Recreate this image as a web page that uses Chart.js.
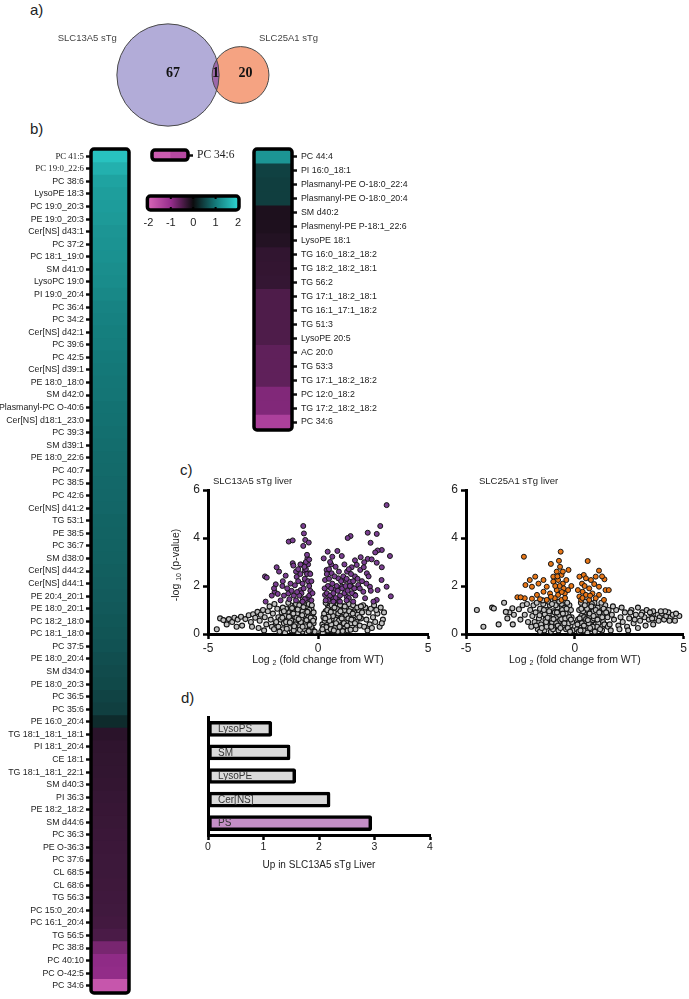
<!DOCTYPE html>
<html><head><meta charset="utf-8">
<script src="https://cdn.jsdelivr.net/npm/chart.js@4.4.1/dist/chart.umd.min.js"></script>
<style>
body{margin:0;background:#fff;}
#page{position:relative;width:689px;height:999px;overflow:hidden;font-family:"Liberation Sans",Arial,sans-serif;color:#222;background:#fff}
canvas{position:absolute;display:block}
.lab{position:absolute;font-size:15px;line-height:1;color:#222}
</style></head><body><div id="page">
<div class="lab" style="left:30px;top:2px">a)</div>
<div class="lab" style="left:30px;top:121px">b)</div>
<div class="lab" style="left:180px;top:462px">c)</div>
<div class="lab" style="left:181px;top:690px">d)</div>
<canvas id="venn" width="400" height="132" style="left:0;top:0"></canvas>
<canvas id="heatL" width="140" height="860" style="left:0;top:140px"></canvas>
<canvas id="inset" width="100" height="30" style="left:140px;top:140px"></canvas>
<canvas id="cbar" width="114" height="52" style="left:136px;top:183px"></canvas>
<canvas id="heatR" width="210" height="300" style="left:240px;top:140px"></canvas>
<canvas id="volA" width="280" height="210" style="left:160px;top:465px"></canvas>
<canvas id="volB" width="271" height="210" style="left:418px;top:465px"></canvas>
<canvas id="bars" width="290" height="185" style="left:160px;top:695px"></canvas>
</div>
<script>
// ---------------- DATA ----------------
const vennSets = ['SLC13A5 sTg', 'SLC25A1 sTg'];
const vennOnly = [67, 20];
const vennShared = [1];

const heatLeftLabels = ['PC 41:5','PC 19:0_22:6','PC 38:6','LysoPE 18:3','PC 19:0_20:3','PE 19:0_20:3','Cer[NS] d43:1','PC 37:2','PC 18:1_19:0','SM d41:0','LysoPC 19:0','PI 19:0_20:4','PC 36:4','PC 34:2','Cer[NS] d42:1','PC 39:6','PC 42:5','Cer[NS] d39:1','PE 18:0_18:0','SM d42:0','Plasmanyl-PC O-40:6','Cer[NS] d18:1_23:0','PC 39:3','SM d39:1','PE 18:0_22:6','PC 40:7','PC 38:5','PC 42:6','Cer[NS] d41:2','TG 53:1','PE 38:5','PC 36:7','SM d38:0','Cer[NS] d44:2','Cer[NS] d44:1','PE 20:4_20:1','PE 18:0_20:1','PC 18:2_18:0','PC 18:1_18:0','PC 37:5','PE 18:0_20:4','SM d34:0','PE 18:0_20:3','PC 36:5','PC 35:6','PE 16:0_20:4','TG 18:1_18:1_18:1','PI 18:1_20:4','CE 18:1','TG 18:1_18:1_22:1','SM d40:3','PI 36:3','PE 18:2_18:2','SM d44:6','PC 36:3','PE O-36:3','PC 37:6','CL 68:5','CL 68:6','TG 56:3','PC 15:0_20:4','PC 16:1_20:4','TG 56:5','PC 38:8','PC 40:10','PC O-42:5','PC 34:6'];
const heatLeftValues = [1.8,1.6,1.45,1.4,1.38,1.35,1.3,1.28,1.25,1.22,1.2,1.15,1.1,1.08,1.05,1.03,1.0,0.98,0.96,0.95,0.93,0.92,0.9,0.88,0.86,0.85,0.84,0.83,0.82,0.8,0.79,0.78,0.77,0.75,0.74,0.72,0.7,0.68,0.66,0.64,0.6,0.57,0.55,0.5,0.46,0.28,-0.22,-0.25,-0.26,-0.27,-0.28,-0.3,-0.31,-0.32,-0.33,-0.34,-0.35,-0.35,-0.36,-0.37,-0.38,-0.4,-0.45,-0.78,-0.95,-0.97,-1.75];

const heatRightLabels = ['PC 44:4','PI 16:0_18:1','Plasmanyl-PE O-18:0_22:4','Plasmanyl-PE O-18:0_20:4','SM d40:2','Plasmenyl-PE P-18:1_22:6','LysoPE 18:1','TG 16:0_18:2_18:2','TG 18:2_18:2_18:1','TG 56:2','TG 17:1_18:2_18:1','TG 16:1_17:1_18:2','TG 51:3','LysoPE 20:5','AC 20:0','TG 53:3','TG 17:1_18:2_18:2','PC 12:0_18:2','TG 17:2_18:2_18:2','PC 34:6'];
const heatRightValues = [1.3,0.48,0.45,0.45,-0.12,-0.13,-0.17,-0.27,-0.28,-0.29,-0.48,-0.48,-0.48,-0.48,-0.6,-0.6,-0.6,-0.85,-0.85,-1.35];

const insetLabel = ['PC 34:6'];
const insetValues = [-1.85, -1.5];
const colorbarTicks = [-2, -1, 0, 1, 2];

const volcA_sig = [[3.12,5.37],[2.83,4.5],[2.67,4.17],[2.26,4.22],[1.48,4.08],[1.35,4.0],[2.39,3.8],[2.9,3.5],[2.71,3.48],[2.6,3.4],[3.27,3.25],[2.26,3.13],[1.94,3.2],[1.68,3.07],[2.1,2.99],[2.44,3.11],[2.67,2.97],[2.9,2.78],[0.44,3.43],[0.88,3.46],[1.08,3.25],[0.65,3.22],[0.26,3.15],
[-0.67,4.5],[-0.64,4.19],[-0.58,3.92],[-0.42,3.81],[-0.67,3.67],[-1.33,3.85],[-1.15,3.9],[-0.48,3.15],[-0.51,2.97],[-0.76,2.89],[-1.15,2.95],[-1.12,2.85],[-1.88,2.78],[-1.77,2.6],[-2.41,2.4],[-2.33,2.35],[-1.47,2.43],[-0.97,2.38],[-0.6,2.64],[-0.38,2.53],[-1.92,2.07],[-1.62,2.0],[-1.05,2.03],[-1.97,1.76],[-1.83,1.67],[-1.35,1.69],[-0.79,1.83],[-2.38,1.35],
[1.32,2.6],[1.53,2.78],[1.76,2.88],[1.92,2.67],[2.22,2.53],[2.08,2.78],[1.68,2.4],[1.43,2.18],[1.23,2.25],[0.92,2.32],[0.62,2.53],[0.39,2.67],[0.32,2.25],[0.47,1.97],[0.77,1.83],[1.08,1.97],[1.53,1.97],[1.83,2.04],[2.36,1.97],[2.71,1.83],[2.89,2.25],[3.12,1.97],[3.31,1.57],[2.67,1.42],[2.52,1.35],[2.06,1.76],[1.68,1.63],[1.3,1.56],[2.14,1.49],[0.7,1.49],[0.32,1.63],[0.47,1.42],[0.92,1.42],
[-0.9,2.2],[-0.8,2.5],[-0.7,2.1],[-0.6,2.3],[-0.55,2.7],[-0.5,2.5],[-0.45,2.2],[-0.4,2.0],[-0.35,1.8],[-0.65,1.9],[-0.75,1.7],[-0.85,1.6],[-0.95,1.75],[-1.1,1.6],[-1.2,1.8],[-1.25,2.1],[-1.4,1.9],[-1.55,1.6],[-0.5,1.5],[-0.6,1.45],[-0.4,1.6],[-0.3,1.4],[-0.7,1.35],[-1.0,1.4],[-1.3,1.45],[-1.7,1.4],[-0.45,2.9],[-0.55,3.0],[-0.5,3.3],[-0.4,3.1],[-0.62,2.8],[-0.35,2.5],[-0.8,2.9],[-1.0,2.6],[-0.9,2.7],[-1.6,2.2],[-2.1,1.6],[-2.0,1.9],[-0.3,2.2],[-0.25,1.7],
[0.35,1.4],[0.4,1.7],[0.45,2.0],[0.5,2.3],[0.55,1.6],[0.6,1.9],[0.65,2.1],[0.7,1.7],[0.75,2.4],[0.8,1.5],[0.85,2.0],[0.9,1.8],[0.95,2.6],[1.0,1.6],[1.05,2.2],[1.1,1.9],[1.15,2.4],[1.2,1.7],[1.25,2.0],[1.3,2.3],[1.35,1.8],[1.4,1.5],[1.45,2.0],[1.5,2.5],[1.55,1.7],[1.6,2.2],[1.65,1.9],[1.7,1.6],[1.8,2.3],[1.9,1.9],[2.0,2.2],[2.2,2.1],[2.3,2.4],[2.4,1.8],[0.5,2.7],[0.6,2.9],[0.3,1.9],[0.4,2.5],[0.7,1.35],[1.0,1.35],[1.3,1.4],[1.6,1.35],[0.55,3.0],[0.8,2.8],[1.2,2.9],[1.4,2.7]];

const volcA_ns = [[-4.6,0.2],[-4.45,0.65],[-4.3,0.58],[-4.15,0.4],[-4.05,0.62],[-3.9,0.5],[-3.8,0.68],[-3.65,0.6],[-3.5,0.72],[-3.45,0.35],[-3.3,0.62],[-3.15,0.78],[-3.05,0.5],[-2.95,0.82],[-2.85,0.68],[-2.75,0.92],[-2.65,0.55],[-2.6,0.8],[-2.5,1.0],[-2.42,0.7],[-2.35,0.4],[-2.28,0.95],[-2.2,1.15],[-2.15,0.6],[-2.05,0.85],[-1.98,1.25],[-1.92,0.45],[-1.85,1.05],[-1.8,0.7],[-3.7,0.3],[-3.0,0.3],[-2.7,0.25],[-2.45,0.15],[-2.1,0.3],
[-1.8,0.3],[-1.7,0.6],[-1.65,0.9],[-1.6,0.2],[-1.55,0.45],[-1.5,0.75],[-1.45,1.05],[-1.4,0.35],[-1.35,0.6],[-1.3,0.9],[-1.25,1.2],[-1.2,0.15],[-1.15,0.45],[-1.1,0.7],[-1.05,1.0],[-1.0,1.25],[-0.95,0.25],[-0.9,0.55],[-0.85,0.8],[-0.8,1.1],[-0.75,1.3],[-0.7,0.1],[-0.65,0.4],[-0.6,0.65],[-0.55,0.9],[-0.5,1.15],[-0.45,0.3],[-0.4,0.55],[-0.35,0.8],[-0.3,1.05],[-0.25,0.2],[-0.2,0.45],[-0.15,0.1],[-1.75,0.1],[-1.5,0.05],[-1.3,0.25],[-1.1,0.15],[-0.9,0.05],[-0.8,0.35],[-0.6,0.2],[-0.5,0.05],[-0.35,0.15],[-1.45,0.5],[-1.25,0.75],[-1.05,0.55],[-0.85,1.2],[-0.7,0.95],[-0.6,1.25],[-0.45,0.7],[-0.4,1.0],[-0.3,0.6],[-1.35,1.3],[-1.15,0.95],[-0.95,0.85],[-0.75,0.6],[-0.55,0.45],[-0.25,0.85],[-1.6,1.1],[-1.9,0.5],[-2.0,0.2],[-0.68,1.45],[-0.5,1.38],[-0.88,0.35],[-1.02,0.4],[-1.22,0.55],[-0.62,0.82],[-0.42,1.25],[-0.3,0.3],[-0.18,0.65],
[-1.55,0.95],[-1.42,0.22],[-1.32,0.72],[-1.18,1.08],[-1.08,0.32],[-0.98,0.68],[-0.92,1.02],[-0.82,0.18],[-0.78,0.5],[-0.72,0.78],[-0.66,1.12],[-0.58,0.32],[-0.52,0.58],[-0.48,0.92],[-0.38,0.38],[-0.33,0.68],[-0.28,1.2],[-0.22,0.55],[-0.2,0.9],[-1.62,0.68],[-1.28,0.48],[-1.12,0.85],[-0.88,0.62],[-0.7,0.3],[-0.42,0.12],
[0.15,0.1],[0.2,0.4],[0.25,0.7],[0.3,0.2],[0.35,0.95],[0.4,0.5],[0.45,1.2],[0.5,0.3],[0.55,0.75],[0.6,1.05],[0.65,0.15],[0.7,0.55],[0.75,0.9],[0.8,1.25],[0.85,0.35],[0.9,0.7],[0.95,1.0],[1.0,0.2],[1.05,0.5],[1.1,0.85],[1.15,1.15],[1.2,0.3],[1.25,0.65],[1.3,0.95],[1.35,0.15],[1.4,0.45],[1.45,0.8],[1.5,1.1],[1.55,0.3],[1.6,0.6],[1.65,0.9],[1.7,0.2],[1.75,0.5],[1.8,0.8],[1.85,1.0],[1.9,0.35],[1.95,0.65],[2.0,0.9],[0.3,0.55],[0.4,0.85],[0.5,1.1],[0.6,0.4],[0.7,1.3],[0.8,0.6],[0.9,0.1],[1.0,1.2],[1.1,0.4],[1.2,1.0],[1.3,0.5],[1.4,1.25],[1.5,0.45],[1.6,1.2],[0.22,0.05],[0.45,0.15],[0.62,0.62],[0.78,0.25],[0.95,0.55],[1.12,0.12],[1.28,0.78],[1.48,0.18],[0.35,1.3],[0.55,1.35],[0.88,1.4],[1.05,0.72],[1.38,0.65],[0.68,1.1],
[0.25,0.3],[0.28,0.85],[0.38,0.28],[0.42,1.0],[0.52,0.55],[0.58,0.2],[0.62,1.2],[0.68,0.75],[0.72,0.15],[0.82,0.45],[0.86,1.05],[0.92,0.85],[0.98,0.3],[1.02,0.95],[1.08,0.65],[1.18,0.45],[1.22,1.15],[1.32,0.35],[1.42,0.95],[1.52,0.6],[1.58,0.85],[1.68,0.45],[1.78,1.1],[1.88,0.7],[0.48,0.72],[0.58,0.92],[0.75,1.1],[0.2,0.2],[0.33,0.65],
[2.1,0.3],[2.15,1.1],[2.2,0.6],[2.3,0.9],[2.35,0.4],[2.4,1.05],[2.5,0.7],[2.55,1.2],[2.6,0.5],[2.7,0.85],[2.8,0.3],[2.85,1.1],[2.95,0.6],[3.0,0.9],[2.25,0.15],[2.45,0.25],[2.65,1.0],[2.9,0.45],[2.05,1.2],[1.95,1.15]];

const volcB_sig = [[-2.34,3.22],[-0.65,3.43],[-0.73,3.05],[-1.1,2.92],[0.59,3.04],[-0.29,2.67],[1.11,2.64],[0.96,2.39],[0.41,2.46],[1.36,2.28],[-0.68,2.8],[-0.83,2.6],[-0.61,2.46],[-0.99,2.39],[-1.44,2.25],[-1.82,2.39],[-2.07,2.25],[-2.27,2.04],[-1.97,1.97],[-1.67,2.1],[-1.29,1.97],[-0.99,2.18],[-0.77,2.25],[-0.55,2.1],[-0.39,2.25],[-0.51,1.9],[-0.83,1.83],[-1.14,1.69],[-1.44,1.76],[-1.74,1.63],[-0.77,1.63],[-0.46,1.69],[-0.92,1.49],[-1.29,1.42],[-0.61,1.42],[-2.3,1.49],[-2.64,1.53],[-2.49,1.53],[-1.97,1.47],[0.21,2.39],[0.33,2.1],[0.51,2.32],[0.74,2.25],[0.89,2.08],[1.11,1.97],[0.66,1.9],[0.36,1.76],[0.21,1.56],[0.51,1.63],[0.81,1.69],[1.11,1.63],[1.41,1.83],[1.56,1.83],[1.34,1.42],[0.96,1.49],[0.66,1.42],[0.29,1.42],[0.14,1.83],[-0.31,1.83],[-0.16,2.0],[-0.7,2.0],[-0.6,1.75],[-0.9,2.0],[-1.1,1.55],[-0.45,1.5],[-1.6,1.45],[-0.8,2.4],[-0.55,2.6],[0.45,2.0],[0.7,1.6],[0.35,1.5],[1.25,2.4]];

const volcB_ns = [[-4.5,1.0],[-4.2,0.3],[-3.8,1.1],[-3.72,1.06],[-3.5,0.4],[-3.25,1.3],[-3.1,0.65],[-3.0,0.9],[-2.85,0.4],[-2.57,1.03],[-2.87,1.07],[-2.8,0.8],[-3.17,0.92],[-2.5,0.6],[-2.4,1.2],[-2.3,0.8],[-2.2,1.25],[-2.15,0.5],[-2.05,1.0],[-2.0,0.3],[-1.95,0.75],[-1.9,1.2],
[-1.85,0.5],[-1.8,0.9],[-1.75,1.3],[-1.7,0.2],[-1.65,0.65],[-1.6,1.05],[-1.55,0.4],[-1.5,0.85],[-1.45,1.25],[-1.4,0.15],[-1.35,0.6],[-1.3,1.0],[-1.25,0.35],[-1.2,0.8],[-1.15,1.2],[-1.1,0.1],[-1.05,0.5],[-1.0,0.95],[-0.95,1.3],[-0.9,0.3],[-0.85,0.7],[-0.8,1.1],[-0.75,0.15],[-0.7,0.55],[-0.65,0.9],[-0.6,1.25],[-0.55,0.35],[-0.5,0.75],[-0.45,1.1],[-0.4,0.2],[-0.35,0.55],[-0.3,0.9],[-0.25,1.2],[-0.2,0.35],[-0.15,0.7],[-0.1,0.15],[-1.6,0.1],[-1.3,0.3],[-1.0,0.2],[-0.85,0.45],[-0.62,0.62],[-0.42,0.85],[-0.28,0.45],[-0.18,1.0],[-1.12,0.65],[-1.38,0.82],[-0.72,1.35],[-0.52,1.4],[-0.35,1.3],[-0.92,0.9],[-1.22,1.35],[-1.48,1.4],[-0.12,0.5],
[-1.62,0.78],[-1.52,0.25],[-1.42,1.0],[-1.32,0.5],[-1.18,0.95],[-1.08,0.3],[-0.98,0.62],[-0.88,1.2],[-0.78,0.35],[-0.72,0.8],[-0.66,0.25],[-0.58,1.0],[-0.48,0.45],[-0.44,0.65],[-0.38,1.05],[-0.32,0.25],[-0.26,0.7],[-0.22,0.1],[-0.18,0.6],[-1.05,1.25],[-0.82,0.9],[-0.55,0.85],[-1.25,0.68],[-1.78,0.35],
[0.1,0.2],[0.15,0.6],[0.2,1.0],[0.25,0.35],[0.3,0.75],[0.35,1.15],[0.4,0.15],[0.45,0.5],[0.5,0.9],[0.55,1.25],[0.6,0.3],[0.65,0.7],[0.7,1.05],[0.75,0.2],[0.8,0.55],[0.85,0.95],[0.9,1.3],[0.95,0.4],[1.0,0.8],[1.05,1.1],[1.1,0.25],[1.15,0.6],[1.2,0.95],[1.25,0.15],[1.3,0.5],[1.35,0.85],[1.4,1.2],[1.45,0.35],[1.5,0.7],[1.55,1.0],[0.18,0.1],[0.32,0.45],[0.48,1.35],[0.62,0.95],[0.78,1.25],[0.92,0.1],[1.08,0.45],[1.22,1.3],[0.28,1.3],[0.42,0.7],[0.58,0.05],[0.72,0.4],[0.88,0.65],[1.02,0.3],[1.18,0.75],[1.32,1.05],
[0.12,0.4],[0.22,0.65],[0.26,0.15],[0.38,0.95],[0.42,0.35],[0.52,0.62],[0.56,1.05],[0.64,0.45],[0.68,0.85],[0.76,1.15],[0.82,0.3],[0.86,0.75],[0.96,1.0],[1.04,0.6],[1.12,0.9],[1.16,0.2],[1.26,0.7],[1.36,0.4],[1.44,0.9],[1.52,0.3],[0.3,1.05],[0.46,1.2],[0.6,0.58],[0.7,0.25],
[1.6,0.4],[1.7,0.8],[1.8,0.6],[1.9,1.0],[2.0,0.35],[2.1,0.7],[2.2,0.5],[2.3,0.9],[2.4,0.3],[2.5,0.65],[2.6,1.0],[2.7,0.45],[2.8,0.8],[2.9,1.1],[3.0,0.55],[3.1,0.9],[3.2,0.7],[3.3,1.0],[3.4,0.6],[3.5,0.85],[3.6,0.95],[3.7,0.65],[3.8,0.8],[3.9,0.7],[4.0,0.85],[4.1,0.6],[4.2,0.75],[4.3,0.9],[4.4,0.7],[4.5,0.8],[4.6,0.55],[4.8,0.75],[1.65,0.15],[2.05,0.2],[2.45,0.15],[2.9,0.25],[3.25,0.35],[3.6,0.4],[1.75,1.15],[2.15,1.1],[2.55,0.9],[3.45,0.9],[3.85,0.55],[4.15,0.95],[4.35,0.55],[4.65,0.85],[2.75,0.6],[3.05,0.8],[3.55,0.65],[3.95,0.95]];

const barCats = ['LysoPS', 'SM', 'LysoPE', 'Cer[NS]', 'PS'];
const barValues = [1.15, 1.48, 1.58, 2.2, 2.95];

// ---------------- HELPERS ----------------
Chart.defaults.font.family = '"Liberation Sans", Arial, sans-serif';
Chart.defaults.color = '#222';
Chart.defaults.animation = false;
Chart.defaults.responsive = false;
Chart.defaults.layout.autoPadding = false;
Chart.defaults.plugins.legend.display = false;
Chart.defaults.plugins.tooltip.enabled = false;

const cmapStops = [[-2,[214,100,182]],[-1,[150,45,140]],[0,[12,12,14]],[1,[20,122,122]],[2,[45,212,208]]];
function heat(v){
  v = Math.max(-2, Math.min(2, v));
  for (let i = 0; i < cmapStops.length - 1; i++) {
    const [a, ca] = cmapStops[i], [b, cb] = cmapStops[i+1];
    if (v <= b) { const t = (v - a) / (b - a); return 'rgb(' + ca.map((c,j)=>Math.round(c + (cb[j]-c)*t)).join(',') + ')'; }
  }
}
const boxBorder = {id:'boxBorder', afterDatasetsDraw(chart, args, o){
  const {ctx, chartArea:a} = chart;
  ctx.save(); ctx.lineWidth = o.width || 3.5; ctx.strokeStyle = '#000';
  ctx.beginPath(); ctx.roundRect(a.left-1, a.top-1, a.right-a.left+2, a.bottom-a.top+2, 3); ctx.stroke();
  if (o.dots) { const x = chart.scales.x; ctx.fillStyle = '#000';
    o.dots.forEach(v => { const px = x.getPixelForValue(v); ctx.fillRect(px-1, a.top-1, 2, 3); ctx.fillRect(px-1, a.bottom-2, 2, 3); }); }
  ctx.restore();
}};
function drawParts(ctx, parts, cx, cy){
  let total = 0;
  const ws = parts.map(([t,s]) => { ctx.font = s + 'px "Liberation Sans"'; const w = ctx.measureText(t).width; total += w; return w; });
  let x = cx - total/2; ctx.textAlign = 'left'; ctx.textBaseline = 'middle';
  parts.forEach(([t,s,dy],i) => { ctx.font = s + 'px "Liberation Sans"'; ctx.fillText(t, x, cy+dy); x += ws[i]; });
}

// ---------------- a) VENN ----------------
const vennK = 6.2;
const rA = vennK * Math.sqrt(vennOnly[0] + vennShared[0]);
const rB = vennK * Math.sqrt(vennOnly[1] + vennShared[0]);
const cxA = 168, cy = 75, cxB = cxA + rA + rB - 7;
const vennPlugin = {id:'vennText', afterDatasetsDraw(chart){
  const {ctx} = chart; const sx = chart.scales.x, sy = chart.scales.y;
  const ax = sx.getPixelForValue(cxA), bx = sx.getPixelForValue(cxB), y = sy.getPixelForValue(cy);
  ctx.save();
  ctx.beginPath(); ctx.arc(ax, y, rA, 0, Math.PI*2); ctx.clip();
  ctx.beginPath(); ctx.arc(bx, y, rB, 0, Math.PI*2); ctx.fillStyle = 'rgb(156,104,170)'; ctx.fill();
  ctx.restore(); ctx.save();
  ctx.strokeStyle = '#4a4a4a'; ctx.lineWidth = 1;
  ctx.beginPath(); ctx.arc(ax, y, rA, 0, Math.PI*2); ctx.stroke();
  ctx.beginPath(); ctx.arc(bx, y, rB, 0, Math.PI*2); ctx.stroke();
  ctx.fillStyle = '#111'; ctx.font = 'bold 14px "Liberation Serif"'; ctx.textAlign = 'center'; ctx.textBaseline = 'middle';
  ctx.fillText(String(vennOnly[0]), ax + 5, y - 2);
  ctx.fillText(String(vennShared[0]), ((ax + rA) + (bx - rB)) / 2, y - 2);
  ctx.fillText(String(vennOnly[1]), bx + 5, y - 2);
  ctx.fillStyle = '#444'; ctx.font = '9.5px "Liberation Sans"';
  ctx.textAlign = 'right'; ctx.fillText(vennSets[0], ax - rA, 38);
  ctx.textAlign = 'left'; ctx.fillText(vennSets[1], bx + rB - 10, 38);
  ctx.restore();
}};
new Chart(document.getElementById('venn'), {
  type:'bubble',
  data:{datasets:[
    {data:[{x:cxB, y:cy, r:rB}], backgroundColor:'rgb(245,163,130)', borderWidth:0, hoverRadius:0, clip:false},
    {data:[{x:cxA, y:cy, r:rA}], backgroundColor:'rgb(178,172,216)', borderWidth:0, hoverRadius:0, clip:false}
  ]},
  options:{layout:{padding:0}, scales:{x:{display:false,min:0,max:400}, y:{display:false,min:0,max:132,reverse:true}}},
  plugins:[vennPlugin]
});

// ---------------- b) HEATMAPS ----------------
function heatChart(id, labels, values, cfg){
  return new Chart(document.getElementById(id), {
    type:'bar',
    data:{labels, datasets:[{data: labels.map(()=>[0,1]), backgroundColor: values.map(heat), borderWidth:0, barPercentage:1.06, categoryPercentage:1}]},
    options:{indexAxis:'y', layout:{padding:cfg.padding},
      scales:{
        x:{display:false, min:0, max:1},
        y:{position:cfg.pos, afterFit:s=>{s.width = cfg.axisW;}, border:{display:false},
           grid:{drawOnChartArea:false, offset:false, tickLength:6, tickWidth:2.5, tickColor:'#111'},
           ticks:{padding:cfg.tickPad, autoSkip:false, color:'#222',
             font: c => ({family: (cfg.serif && cfg.serif.includes(c.index)) ? '"Liberation Serif"' : '"Liberation Sans"', size: cfg.fontSize})}}
      },
      plugins:{boxBorder:{width:3.5}}},
    plugins:[boxBorder]
  });
}
heatChart('heatL', heatLeftLabels, heatLeftValues, {pos:'left', axisW:92, padding:{top:10,bottom:8,right:12}, tickPad:2, fontSize:8.8, serif:[0,1]});
heatChart('heatR', heatRightLabels, heatRightValues, {pos:'right', axisW:159, padding:{top:10,bottom:11,left:15}, tickPad:4, fontSize:8.8});

// inset PC 34:6
new Chart(document.getElementById('inset'), {
  type:'bar',
  data:{labels: insetLabel, datasets: insetValues.map(v => ({data:[1], backgroundColor: heat(v), borderWidth:0, barPercentage:1, categoryPercentage:1}))},
  options:{indexAxis:'y', layout:{padding:{left:13, top:11, bottom:9}},
    scales:{x:{stacked:true, display:false, min:0, max:insetValues.length},
      y:{stacked:true, position:'right', afterFit:s=>{s.width = 53;}, border:{display:false},
         grid:{drawOnChartArea:false, offset:false, tickLength:6, tickWidth:2.5, tickColor:'#111'},
         ticks:{padding:4, color:'#222', font:{family:'"Liberation Serif"', size:11.5}}}},
    plugins:{boxBorder:{width:3.5}}},
  plugins:[boxBorder]
});

// colour bar
new Chart(document.getElementById('cbar'), {
  type:'bar',
  data:{labels:[''], datasets:[{data:[[colorbarTicks[0], colorbarTicks[colorbarTicks.length-1]]], borderWidth:0, barPercentage:1, categoryPercentage:1,
    backgroundColor: c => { const ch = c.chart; if (!ch.chartArea) return '#000'; const x = ch.scales.x;
      const g = ch.ctx.createLinearGradient(x.getPixelForValue(-2), 0, x.getPixelForValue(2), 0);
      cmapStops.forEach(([v,col]) => g.addColorStop((v+2)/4, 'rgb(' + col.join(',') + ')')); return g; }}]},
  options:{indexAxis:'y', layout:{padding:{left:10, right:12, top:14}},
    scales:{x:{min:-2, max:2, afterFit:s=>{s.height = 26;}, border:{display:false}, grid:{display:false, drawTicks:false},
      ticks:{stepSize:1, padding:7.5, color:'#222', font:{size:11}}},
      y:{display:false}},
    plugins:{boxBorder:{width:3.5, dots:[-1,0,1]}}},
  plugins:[boxBorder]
});

// ---------------- c) VOLCANOES ----------------
const volcText = {id:'volcText', afterDraw(chart, args, o){
  const {ctx, chartArea:a} = chart;
  ctx.save(); ctx.fillStyle = '#222';
  ctx.font = '9.5px "Liberation Sans"'; ctx.textAlign = 'left'; ctx.textBaseline = 'middle';
  ctx.fillText(o.title, a.left + o.titleDx, a.top - 9);
  drawParts(ctx, [['Log ',10.5,0],['2',7,3],[' (fold change from WT)',10.5,0]], (a.left+a.right)/2, a.bottom + 26);
  if (o.yTitle) {
    ctx.translate(a.left - 32, (a.top+a.bottom)/2 + 3); ctx.rotate(-Math.PI/2);
    drawParts(ctx, [['-log ',10.5,0],['10',7,3],[' (p-value)',10.5,0]], 0, 0);
  }
  ctx.restore();
}};
function volcano(id, ns, sig, sigColor, cfg){
  const axisGrid = {drawOnChartArea:false, tickLength:5, tickWidth:2.5, tickColor:'#000'};
  return new Chart(document.getElementById(id), {
    type:'scatter',
    data:{datasets:[
      {data: sig.map(([x,y]) => ({x,y})), backgroundColor: sigColor, borderColor:'#151515', borderWidth:1, pointRadius:2.5},
      {data: ns.map(([x,y]) => ({x,y})), backgroundColor:'#c2c2c2', borderColor:'#141414', borderWidth:1.1, pointRadius:2.5}
    ]},
    options:{layout:{padding:{top:25, right:cfg.right, left:0, bottom:0}},
      scales:{
        x:{type:'linear', min:-5, max:5, afterFit:s=>{s.height = 41;}, ticks:{stepSize:5, padding:2, color:'#222', font:{size:12}}, grid:axisGrid, border:{width:3, color:'#000'}},
        y:{min:0, max:6, afterFit:s=>{s.width = 48;}, ticks:{stepSize:2, padding:3, color:'#222', font:{size:12}}, grid:axisGrid, border:{width:3, color:'#000'}}
      },
      plugins:{volcText:{title:cfg.title, titleDx:cfg.titleDx, yTitle:cfg.yTitle}}},
    plugins:[volcText]
  });
}
volcano('volA', volcA_ns, volcA_sig, 'rgb(122,62,145)', {right:12, title:'SLC13A5 sTg liver', titleDx:5, yTitle:true});
volcano('volB', volcB_ns, volcB_sig, 'rgb(232,118,22)', {right:1, title:'SLC25A1 sTg liver', titleDx:13, yTitle:false});

// ---------------- d) BARS ----------------
const barText = {id:'barText', afterDatasetsDraw(chart){
  const {ctx, chartArea:a} = chart; const meta = chart.getDatasetMeta(0);
  ctx.save(); ctx.fillStyle = '#333'; ctx.font = '10px "Liberation Sans"'; ctx.textAlign = 'left'; ctx.textBaseline = 'middle';
  meta.data.forEach((el, i) => ctx.fillText(barCats[i], a.left + 10, el.y + 0.5));
  ctx.font = '10px "Liberation Sans"'; ctx.textAlign = 'center'; ctx.fillStyle = '#222';
  ctx.fillText('Up in SLC13A5 sTg Liver', (a.left + a.right)/2, a.bottom + 30);
  ctx.restore();
}};
new Chart(document.getElementById('bars'), {
  type:'bar',
  data:{labels: barCats, datasets:[{data: barValues,
    backgroundColor: c => barCats[c.dataIndex] === 'PS' ? 'rgb(196,142,198)' : 'rgb(218,218,218)',
    borderColor:'#000', borderWidth:3.5, borderSkipped:false, borderRadius:2, barThickness:15}]},
  options:{indexAxis:'y', layout:{padding:{top:22, right:20}},
    scales:{
      x:{min:0, max:4, afterFit:s=>{s.height = 45;}, ticks:{stepSize:1, padding:1, color:'#222', font:{size:10.5}},
         grid:{drawOnChartArea:false, tickLength:5, tickWidth:2.5, tickColor:'#000'}, border:{width:3, color:'#000'}},
      y:{afterFit:s=>{s.width = 48;}, ticks:{display:false}, grid:{display:false}, border:{width:3, color:'#000'}}
    }},
  plugins:[barText]
});
</script>
</body></html>
